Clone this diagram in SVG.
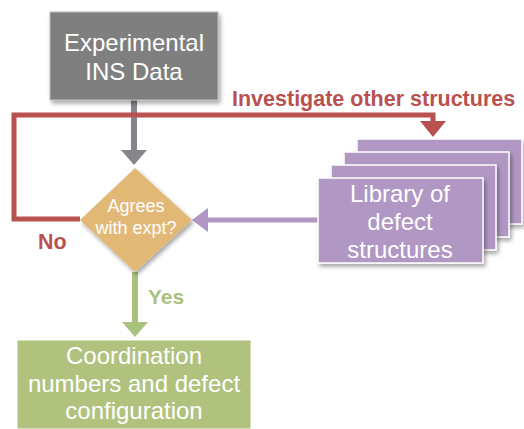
<svg xmlns="http://www.w3.org/2000/svg" width="524" height="429" viewBox="0 0 524 429">
  <defs>
    <filter id="shadow" x="-10%" y="-10%" width="130%" height="140%">
      <feDropShadow dx="2" dy="3" stdDeviation="2" flood-color="#000" flood-opacity="0.35"/>
    </filter>
    <style>
      .lbl { font-family: "Liberation Sans", Arial, sans-serif; fill: #fff; text-anchor: middle; }
      .bold { font-family: "Liberation Sans", Arial, sans-serif; font-weight: bold; }
      .card { fill: #b198c4; stroke: #fff; stroke-width: 1.5; filter: url(#shadow); }
    </style>
  </defs>
  <rect width="524" height="429" fill="#fff"/>

  <!-- connectors -->
  <g id="connectors">
    <!-- data to decision -->
    <line x1="134" y1="100" x2="134" y2="152" stroke="#85868b" stroke-width="6"/>
    <polygon points="121,150 147,150 134,165" fill="#85868b"/>
    <!-- "No" loop back to library -->
    <polyline points="80,219 14,219 14,115 433,115 433,122" fill="none" stroke="#b8514f" stroke-width="5"/>
    <polygon points="420,121 446,121 433,137" fill="#b8514f"/>
    <!-- library to decision -->
    <line x1="318" y1="220" x2="206" y2="220" stroke="#b198c4" stroke-width="5"/>
    <polygon points="192,220 208,208 208,232" fill="#b198c4"/>
    <!-- decision to result -->
    <line x1="135" y1="272" x2="135" y2="324" stroke="#abc27e" stroke-width="6"/>
    <polygon points="122,322 148,322 135,337" fill="#abc27e"/>
    <text class="bold" x="232" y="106" font-size="21.5" fill="#b8514f">Investigate other structures</text>
    <text class="bold" x="38" y="249" font-size="21.5" fill="#b8514f">No</text>
    <text class="bold" x="148" y="304" font-size="21" fill="#abc27e">Yes</text>
  </g>

  <!-- experimental data -->
  <g id="data">
    <rect x="50" y="12" width="168" height="88" fill="#7f7f7f" stroke="#bbb" stroke-width="1" filter="url(#shadow)"/>
    <text class="lbl" x="134" y="51" font-size="24">Experimental</text>
    <text class="lbl" x="134" y="80" font-size="24">INS Data</text>
  </g>

  <!-- decision -->
  <g id="decision">
    <polygon points="135,168 192,220 135,272 80,220" fill="#e2b877" filter="url(#shadow)"/>
    <text class="lbl" x="136" y="212" font-size="18">Agrees</text>
    <text class="lbl" x="136" y="234" font-size="18">with expt?</text>
  </g>

  <!-- library of structures -->
  <g id="library">
    <rect class="card" x="357" y="139" width="165" height="85"/>
    <rect class="card" x="344" y="152" width="165" height="85"/>
    <rect class="card" x="331" y="165" width="165" height="85"/>
    <rect class="card" x="318" y="178" width="165" height="85"/>
    <text class="lbl" x="400" y="202" font-size="24">Library of</text>
    <text class="lbl" x="400" y="230" font-size="24">defect</text>
    <text class="lbl" x="400" y="258" font-size="24">structures</text>
  </g>

  <!-- result -->
  <g id="result">
    <rect x="17" y="340" width="234" height="89" fill="#b1c27f" stroke="#fff" stroke-width="1"/>
    <text class="lbl" x="134" y="364" font-size="24">Coordination</text>
    <text class="lbl" x="134" y="392" font-size="24">numbers and defect</text>
    <text class="lbl" x="134" y="419" font-size="24">configuration</text>
  </g>
</svg>
